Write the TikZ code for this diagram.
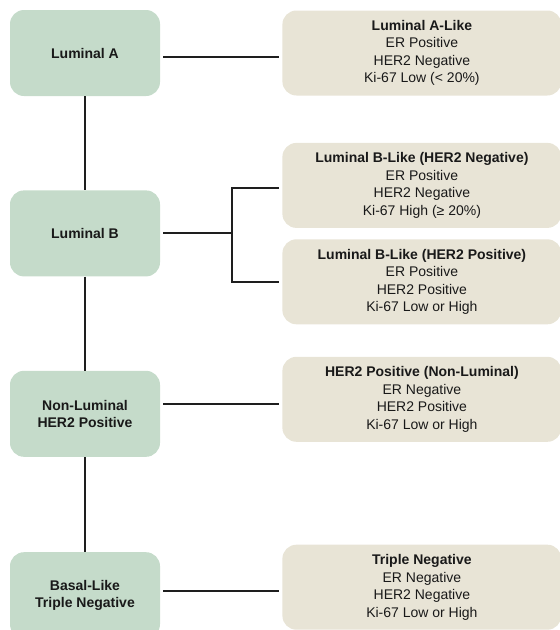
\documentclass[tikz,border=0pt]{standalone}
\usepackage{fontspec}
\setmainfont{Liberation Sans}
\usepackage{tikz}
\usetikzlibrary{positioning}
\definecolor{SubtypeGreen}{HTML}{C5DBCA}
\definecolor{SurrogateSand}{HTML}{E8E4D6}
\definecolor{WireInk}{HTML}{1E1E1E}
\tikzset{
  subtype/.style={fill=SubtypeGreen, rounded corners=14pt, align=center, text=black!90,
    minimum width=150pt, minimum height=86pt, inner sep=0pt,
    font=\fontsize{14}{17.5}\selectfont\bfseries},
  surrogate/.style={fill=SurrogateSand, rounded corners=14pt, align=center, text=black!90,
    minimum width=279pt, minimum height=85pt, inner sep=0pt,
    font=\fontsize{14}{17.5}\selectfont},
  wire/.style={draw=WireInk, line width=2pt},
  gapwire/.style={wire, shorten <=3pt, shorten >=3pt}
}

\begin{document}
\begin{tikzpicture}[x=1pt, y=-1pt]
  \clip (0,0) rectangle (560,630);
  % intrinsic subtypes
  \node[subtype] (lumA) at (85,53) {Luminal A};
  \node[subtype, below=94pt of lumA] (lumB) {Luminal B};
  \node[subtype, below=94pt of lumB] (nonlum) {Non-Luminal\\HER2 Positive};
  \node[subtype, below=95pt of nonlum] (basal) {Basal-Like\\Triple Negative};
  % surrogate definitions
  \node[surrogate, right=122pt of lumA] (lumAlike)
    {\textbf{Luminal A-Like}\\ER Positive\\HER2 Negative\\Ki-67 Low (< 20\%)};
  \node[surrogate, right=122pt of lumB, yshift=48pt] (lumBneg)
    {\textbf{Luminal B-Like (HER2 Negative)}\\ER Positive\\HER2 Negative\\Ki-67 High (≥ 20\%)};
  \node[surrogate, below=11pt of lumBneg] (lumBpos)
    {\textbf{Luminal B-Like (HER2 Positive)}\\ER Positive\\HER2 Positive\\Ki-67 Low or High};
  \node[surrogate, right=122pt of nonlum, yshift=14.5pt] (her2pos)
    {\textbf{HER2 Positive (Non-Luminal)}\\ER Negative\\HER2 Positive\\Ki-67 Low or High};
  \node[surrogate, right=122pt of basal, yshift=8pt] (tripneg)
    {\textbf{Triple Negative}\\ER Negative\\HER2 Negative\\Ki-67 Low or High};
  % trunk
  \draw[wire] (lumA) -- (lumB);
  \draw[wire] (lumB) -- (nonlum);
  \draw[wire] (nonlum) -- (basal);
  % links to surrogates
  \draw[gapwire] ([yshift=-4pt]lumA.east) -- ([yshift=-4pt]lumA.east -| lumAlike.west);
  \coordinate (split) at ([xshift=72pt]lumB.east);
  \draw[wire, shorten <=3pt] (lumB.east) -- (split);
  \draw[gapwire] ([yshift=-3pt]lumBneg.west) -| (split) |- (lumBpos.west);
  \draw[gapwire] ([yshift=9.5pt]nonlum.east) -- ([yshift=9.5pt]nonlum.east -| her2pos.west);
  \draw[gapwire] ([yshift=4pt]basal.east) -- ([yshift=4pt]basal.east -| tripneg.west);
\end{tikzpicture}
\end{document}
